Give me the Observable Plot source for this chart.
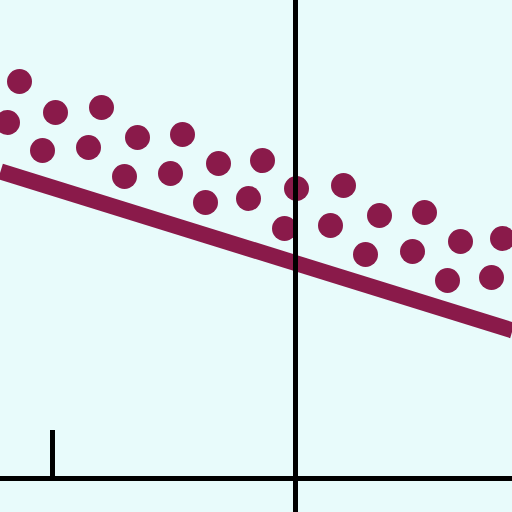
<!DOCTYPE html>
<html>
<head>
<meta charset="utf-8">
<script src="https://cdn.jsdelivr.net/npm/d3@7"></script>
<script src="https://cdn.jsdelivr.net/npm/@observablehq/plot@0.6"></script>
<style>
  body { margin: 0; background: #e8fbfb; }
  #chart svg { display: block; }
</style>
</head>
<body>
<div id="chart"></div>
<script>
// dot positions (axis crossing = 0,0)
const dotX = [-5.52, -5.76, -4.8, -3.88, -5.06, -4.14, -3.16, -2.26, -3.42, -2.5, -1.54, -0.66,
  -1.8, -0.94, -0.22, 0.02, 0.96, 0.7, 1.68, 2.58, 1.4, 2.34, 3.3, 4.14, 3.04, 3.92]
const dotY = [7.94, 7.12, 7.32, 7.42, 6.56, 6.62, 6.82, 6.88, 6.04, 6.1, 6.3, 6.36,
  5.52, 5.6, 5.0, 5.8, 5.86, 5.06, 5.26, 5.32, 4.48, 4.54, 4.74, 4.8, 3.96, 4.02]

// trend line ends
const lineX = [-5.9, 4.34]
const lineY = [6.14, 2.96]

// lone tick on the x axis
const tickX = [-4.86]
const tickTop = 0.96

const dots = dotX.map((x, i) => ({x, y: dotY[i]}))
const trend = lineX.map((x, i) => ({x, y: lineY[i]}))

let chart =
Plot.plot({
  width: 512,
  height: 512,
  margin: 0,
  style: {background: '#e8fbfb'},
  x: {domain: [-5.9, 4.34], axis: null},
  y: {domain: [-0.68, 9.56], axis: null},
  marks: [
    Plot.line(trend, {x: 'x', y: 'y', stroke: '#8a1a4a', strokeWidth: 16, strokeLinecap: 'butt'}),
    Plot.dot(dots, {x: 'x', y: 'y', r: 12.5, fill: '#8a1a4a'}),
    Plot.ruleX([0], {stroke: '#000', strokeWidth: 5}),
    Plot.ruleY([0], {stroke: '#000', strokeWidth: 5}),
    Plot.ruleX(tickX, {y1: 0, y2: tickTop, stroke: '#000', strokeWidth: 5}),
  ],
})
d3.select('#chart').append(() => chart)
</script>
</body>
</html>
